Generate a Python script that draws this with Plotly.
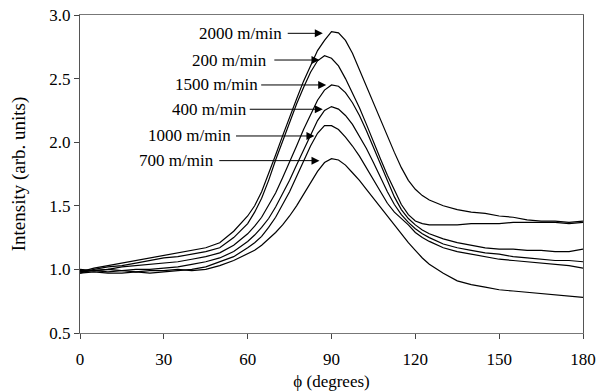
import plotly.graph_objects as go

phi = [0, 5, 10, 15, 20, 25, 30, 35, 40, 45, 50, 55,
       60, 62.5, 65, 67.5, 70, 72.5, 75, 77.5, 80, 82.5, 85, 87.5, 90, 92.5,
       95, 97.5, 100, 102.5, 105, 107.5, 110, 112.5, 115, 117.5, 120, 122.5, 125,
       130, 135, 140, 145, 150, 155, 160, 165, 170, 175, 180]

s2000 = [0.98, 1.01, 1.03, 1.05, 1.07, 1.09, 1.11, 1.13, 1.15, 1.17, 1.21, 1.30,
         1.42, 1.50, 1.61, 1.75, 1.90, 2.05, 2.20, 2.34, 2.48, 2.60, 2.72, 2.80, 2.87, 2.86,
         2.80, 2.70, 2.57, 2.44, 2.30, 2.18, 2.04, 1.92, 1.80, 1.70, 1.63, 1.58, 1.545,
         1.50, 1.47, 1.45, 1.44, 1.42, 1.41, 1.39, 1.38, 1.38, 1.37, 1.38]
s200 = [0.97, 1.00, 1.02, 1.03, 1.05, 1.07, 1.09, 1.10, 1.12, 1.14, 1.17, 1.25,
        1.36, 1.45, 1.56, 1.70, 1.86, 2.01, 2.16, 2.30, 2.43, 2.55, 2.64, 2.68, 2.66, 2.60,
        2.50, 2.39, 2.27, 2.14, 2.00, 1.87, 1.74, 1.62, 1.51, 1.43, 1.38, 1.36, 1.35,
        1.35, 1.35, 1.36, 1.36, 1.36, 1.37, 1.37, 1.37, 1.37, 1.36, 1.37]
s1500 = [0.98, 0.99, 1.00, 1.02, 1.03, 1.04, 1.05, 1.06, 1.08, 1.10, 1.13, 1.19,
         1.28, 1.34, 1.41, 1.50, 1.60, 1.72, 1.84, 1.97, 2.10, 2.22, 2.33, 2.41, 2.45, 2.44,
         2.39, 2.31, 2.21, 2.09, 1.96, 1.82, 1.69, 1.57, 1.47, 1.40, 1.35, 1.31, 1.28,
         1.24, 1.21, 1.19, 1.17, 1.16, 1.16, 1.15, 1.15, 1.14, 1.14, 1.16]
s400 = [0.99, 0.99, 0.98, 0.99, 1.00, 1.00, 1.01, 1.02, 1.04, 1.06, 1.09, 1.14,
        1.22, 1.27, 1.33, 1.40, 1.49, 1.59, 1.70, 1.82, 1.94, 2.06, 2.17, 2.25, 2.28, 2.26,
        2.21, 2.14, 2.05, 1.95, 1.84, 1.72, 1.61, 1.51, 1.43, 1.37, 1.32, 1.28, 1.25,
        1.20, 1.17, 1.15, 1.13, 1.12, 1.10, 1.09, 1.08, 1.07, 1.07, 1.06]
s1000 = [0.97, 0.98, 0.97, 0.97, 0.98, 0.97, 0.98, 0.99, 1.00, 1.02, 1.06, 1.10,
         1.17, 1.21, 1.26, 1.33, 1.41, 1.51, 1.61, 1.73, 1.85, 1.97, 2.07, 2.13, 2.13, 2.10,
         2.04, 1.97, 1.89, 1.80, 1.71, 1.61, 1.52, 1.45, 1.40, 1.35, 1.29, 1.25, 1.22,
         1.17, 1.14, 1.12, 1.10, 1.08, 1.07, 1.06, 1.05, 1.04, 1.03, 1.01]
s700 = [1.00, 0.99, 1.00, 0.99, 0.98, 0.99, 0.99, 1.00, 0.99, 1.00, 1.03, 1.07,
        1.12, 1.15, 1.19, 1.24, 1.29, 1.35, 1.42, 1.50, 1.59, 1.68, 1.77, 1.84, 1.87, 1.86,
        1.82, 1.76, 1.70, 1.63, 1.56, 1.49, 1.42, 1.35, 1.28, 1.21, 1.15, 1.09, 1.04,
        0.97, 0.91, 0.88, 0.86, 0.84, 0.83, 0.82, 0.81, 0.80, 0.79, 0.78]

series = {"2000 m/min": s2000, "200 m/min": s200, "1500 m/min": s1500,
          "400 m/min": s400, "1000 m/min": s1000, "700 m/min": s700}

x_ticks = [0, 30, 60, 90, 120, 150, 180]
y_ticks = [0.5, 1.0, 1.5, 2.0, 2.5, 3.0]
y_tick_text = ["0.5", "1.0", "1.5", "2.0", "2.5", "3.0"]

# label layout: (text, y level, arrow tail x, arrow tip x, text right edge x)
labels = [("2000 m/min", 2.856, 73.8, 86.9, 73.0),
          ("200 m/min", 2.646, 69.0, 85.7, 67.8),
          ("1500 m/min", 2.45, 64.3, 88.1, 64.5),
          ("400 m/min", 2.259, 60.2, 86.9, 60.4),
          ("1000 m/min", 2.049, 55.3, 83.9, 54.6),
          ("700 m/min", 1.855, 49.3, 85.7, 48.5)]

FONT = "Liberation Serif, Times New Roman, serif"

fig = go.Figure()
for name, vals in series.items():
    fig.add_trace(go.Scatter(x=phi, y=vals, mode="lines", name=name,
                             line=dict(color="black", width=1.2),
                             showlegend=False))

for text, ly, tail, tip, tr in labels:
    fig.add_annotation(x=tip, y=ly, ax=tail, ay=ly, axref="x", ayref="y",
                       xref="x", yref="y", text="", showarrow=True,
                       arrowhead=2, arrowsize=1.6, arrowwidth=1, arrowcolor="black")
    fig.add_annotation(x=tr, y=ly, xref="x", yref="y", text=text,
                       showarrow=False, xanchor="right", yanchor="middle",
                       font=dict(family=FONT, size=17, color="black"))

fig.update_layout(
    template="none",
    width=597, height=392,
    margin=dict(l=80, r=14, t=15, b=59, autoexpand=False),
    paper_bgcolor="white", plot_bgcolor="white",
    font=dict(family=FONT, size=17, color="black"),
)
fig.update_xaxes(range=[0, 180], tickvals=x_ticks, ticks="outside", ticklen=5,
                 tickcolor="#444", showgrid=False, zeroline=False, automargin=False,
                 showline=True, linecolor="#777", linewidth=1, mirror=True,
                 ticklabelstandoff=6,
                 title=dict(text="ϕ (degrees)", standoff=6,
                            font=dict(family=FONT, size=17)),
                 tickfont=dict(family=FONT, size=17))
fig.update_yaxes(range=[0.5, 3.0], tickvals=y_ticks, ticktext=y_tick_text,
                 ticks="outside", ticklen=5, tickcolor="#444", automargin=False,
                 showgrid=False, zeroline=False,
                 showline=True, linecolor="#555", linewidth=1, mirror=True,
                 title=dict(text="Intensity (arb. units)", standoff=18,
                            font=dict(family=FONT, size=19)),
                 tickfont=dict(family=FONT, size=17))

fig.write_html("out.html")
